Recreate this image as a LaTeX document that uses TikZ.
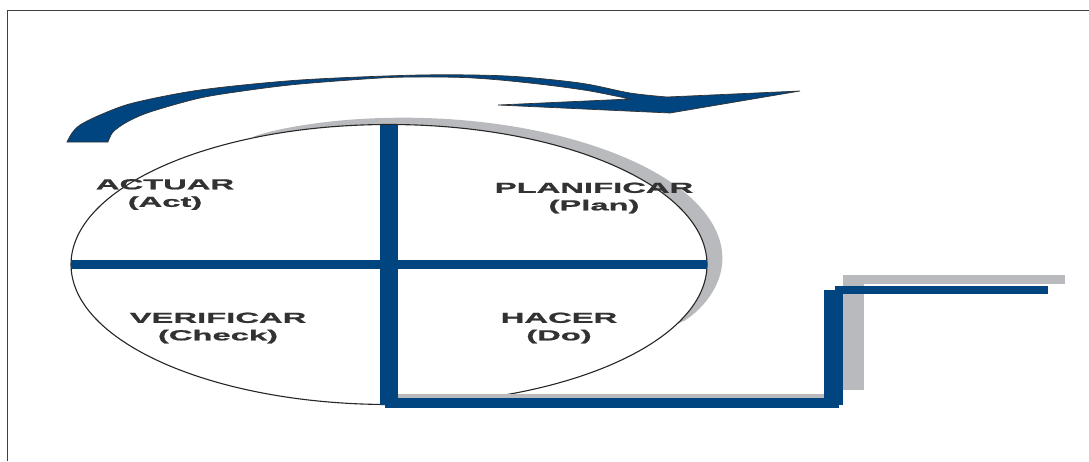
\documentclass[tikz,border=0pt]{standalone}
\usepackage{fontspec}
\newfontfamily\lblfont{Liberation Sans}[FakeStretch=2.26,FakeBold=1.2]
\definecolor{pdcablue}{RGB}{0,68,128}
\definecolor{shadowgray}{RGB}{185,186,190}
\definecolor{txtgray}{RGB}{50,50,50}
\tikzset{
  bar/.style={fill=pdcablue},
  shadowbar/.style={fill=shadowgray},
  outline/.style={draw=black!85,line width=1.1pt},
  lbl/.style={align=center,text=txtgray,font=\lblfont\bfseries\fontsize{14.5}{17.5}\selectfont,inner sep=0pt},
  framestyle/.style={draw=black!75,line width=1.1pt}
}
\begin{document}
\begin{tikzpicture}[x=1pt,y=-1pt]
\useasboundingbox (0,0) rectangle (1089,461);
\fill[white] (0,0) rectangle (1089,461);
% frame
\coordinate (ftl) at (7.5,10.5);
\coordinate (ftr) at (1089,10.5);
\coordinate (fbl) at (7.5,461);
\draw[framestyle] (ftr) -- (ftl) -- (fbl);

% curved arrow
\filldraw[fill=pdcablue,draw=black!80,line width=0.7pt]
  plot[smooth] coordinates {(67,142) (72,133) (80,125) (100,115) (133,103) (200,90) (300,80) (420,75) (507,76) (580,83) (630,93) (667,97)}
  -- (800,91) -- (670,113) -- (498,105) -- (630,99)
  -- plot[smooth] coordinates {(630,99) (590,91) (547,85) (500,80) (463,77.5) (420,77) (380,78) (300,84) (250,90) (200,98) (150,112) (127,122) (113,132) (108,142)}
  -- cycle;

% gray shadow crescent of the circle
\fill[shadowgray]
  plot[domain=115:-25,samples=80,variable=\t] ({389+318*cos(\t)},{264.5-140*sin(\t)})
  -- plot[domain=-25:115,samples=80,variable=\t]
     ({389+318*(1+0.065*sqrt(abs(sin(1.28*(\t+25)))+0.0004))*cos(\t)},{264.5-140*(1+0.065*sqrt(abs(sin(1.28*(\t+25)))+0.0004))*sin(\t)})
  -- cycle;

% circle (stretched)
\node[draw=none,inner sep=0pt] (ctr) at (389,264.5) {};
\draw[outline] (ctr) ellipse [x radius=318pt, y radius=140pt];

% shadows of the step
\fill[shadowbar] (392,394) rectangle (824,398.5);
\fill[shadowbar] (843,275) rectangle (864,390);
\fill[shadowbar] (843,275) rectangle (1065,284);

% blue bars
\fill[bar] (71,260) rectangle (707,269);
\fill[bar] (380,125) rectangle (398,405);
\fill[bar] (385,398) rectangle (839,408);
\fill[bar] (824,290) rectangle (843,405);
\fill[bar] (835,286) rectangle (1048,294);

% labels
\node[lbl] (act) at (165,194.5) {ACTUAR\\(Act)};
\node[lbl] (plan) at (594,198) {PLANIFICAR\\(Plan)};
\node[lbl] (check) at (218,328) {VERIFICAR\\(Check)};
\node[lbl] (do) at (559,328) {HACER\\(Do)};
\end{tikzpicture}
\end{document}
